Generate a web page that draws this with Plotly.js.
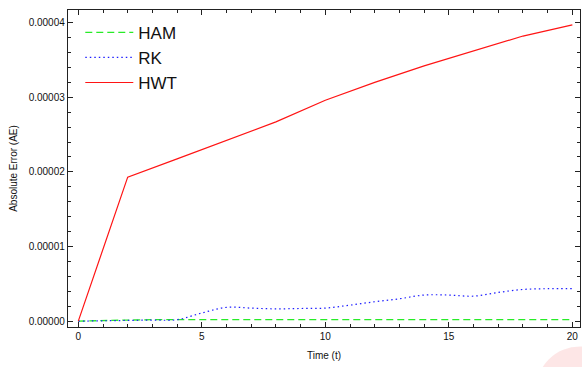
<!DOCTYPE html>
<html>
<head>
<meta charset="utf-8">
<script src="https://cdn.plot.ly/plotly-3.0.1.min.js"></script>
<style>html,body{margin:0;padding:0;background:#fff;}#chart{width:582px;height:367px;}</style>
</head>
<body>
<div id="chart"></div>
<script>
// Time values
var tHWT = [0, 2, 4, 6, 8, 10, 12, 14, 16, 18, 20];
var hwt = [0, 1.93e-5, 2.175e-5, 2.42e-5, 2.67e-5, 2.96e-5, 3.20e-5, 3.42e-5, 3.62e-5, 3.82e-5, 3.97e-5];

var tRK = [0,1,2,3,4,5,6,7,8,9,10,11,12,13,14,15,16,17,18,19,20];
var rk = [0, 0.005e-5, 0.01e-5, 0.015e-5, 0.02e-5, 0.11e-5, 0.185e-5, 0.175e-5, 0.165e-5, 0.17e-5, 0.175e-5,
          0.215e-5, 0.26e-5, 0.30e-5, 0.35e-5, 0.35e-5, 0.335e-5, 0.385e-5, 0.425e-5, 0.435e-5, 0.435e-5];

var tHAM = [0,1,2,3,4,5,6,7,8,9,10,11,12,13,14,15,16,17,18,19,20];
var ham = [0, 0.01e-5, 0.015e-5, 0.02e-5, 0.02e-5, 0.02e-5, 0.02e-5, 0.02e-5, 0.02e-5, 0.02e-5, 0.02e-5,
           0.02e-5, 0.02e-5, 0.02e-5, 0.02e-5, 0.02e-5, 0.02e-5, 0.02e-5, 0.02e-5, 0.02e-5, 0.02e-5];

var traces = [
  {x: tHAM, y: ham, name: 'HAM', type: 'scatter', mode: 'lines',
   line: {color: 'rgb(40,235,40)', width: 1.3, dash: '7px,4px'}},
  {x: tRK, y: rk, name: 'RK', type: 'scatter', mode: 'lines',
   line: {color: 'rgb(30,30,255)', width: 1.2, dash: '1.5px,3px', shape: 'spline'}},
  {x: tHWT, y: hwt, name: 'HWT', type: 'scatter', mode: 'lines',
   line: {color: 'rgb(255,20,20)', width: 1.2}}
];

var axisCommon = {
  showgrid: false, zeroline: false, showline: true, linecolor: '#222', linewidth: 1.2,
  mirror: 'allticks', ticks: 'inside', ticklen: 5, tickwidth: 1, tickcolor: '#222',
  tickfont: {family: 'Liberation Sans, Arial, sans-serif', size: 10, color: '#111'}
};

var layout = {
  width: 582, height: 367,
  margin: {l: 68, r: 2, t: 10, b: 40},
  paper_bgcolor: '#fff', plot_bgcolor: '#fff',
  showlegend: true,
  legend: {x: 0.024, y: 0.985, xanchor: 'left', yanchor: 'top', bgcolor: 'rgba(0,0,0,0)',
           itemwidth: 48,
           font: {family: 'Liberation Sans, Arial, sans-serif', size: 17, color: '#111'}},
  xaxis: Object.assign({}, axisCommon, {
    range: [-0.417, 20.31], tickmode: 'linear', tick0: 0, dtick: 5,
    minor: {dtick: 1, ticks: 'inside', ticklen: 3, tickcolor: '#222', showgrid: false},
    title: {text: 'Time (t)', standoff: 10, font: {family: 'Liberation Sans, Arial, sans-serif', size: 10, color: '#111'}}
  }),
  yaxis: Object.assign({}, axisCommon, {
    range: [-0.078e-5, 4.169e-5], tickmode: 'linear', tick0: 0, dtick: 1e-5, tickformat: '.5f',
    minor: {dtick: 0.2e-5, ticks: 'inside', ticklen: 3, tickcolor: '#222', showgrid: false},
    title: {text: 'Absolute Error (AE)', standoff: 9, font: {family: 'Liberation Sans, Arial, sans-serif', size: 10, color: '#111'}}
  }),
  shapes: [{
    type: 'circle', xref: 'paper', yref: 'paper', layer: 'below',
    xsizemode: 'pixel', ysizemode: 'pixel', xanchor: 1.0, yanchor: -0.2,
    x0: -44, x1: 44, y0: -44, y1: 44,
    fillcolor: 'rgba(245,100,100,0.16)', line: {width: 0}
  }]
};

Plotly.newPlot('chart', traces, layout, {displayModeBar: false, staticPlot: true});
</script>
</body>
</html>
